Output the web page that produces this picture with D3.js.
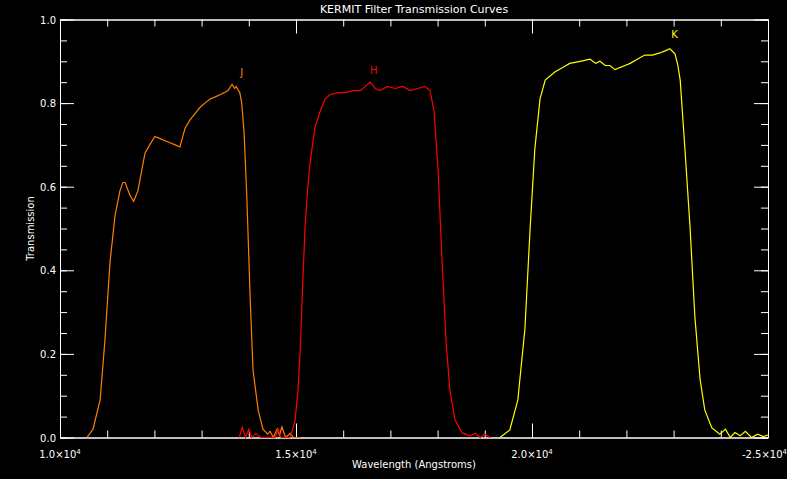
<!DOCTYPE html>
<html><head><meta charset="utf-8">
<script src="https://cdn.jsdelivr.net/npm/d3@7"></script>
<style>body{margin:0;background:#000}svg{display:block}text{font-family:"DejaVu Sans",sans-serif;fill:#fff}</style>
</head><body><svg id="chart" width="787" height="479"></svg>
<script>
// Filter curves: [wavelength in Angstroms, transmission]
const jBand = [[10570,0],[10700,0.02],[10850,0.09],[10950,0.23],[11060,0.42],[11165,0.53],[11270,0.59],[11330,0.61],[11380,0.61],[11480,0.58],[11560,0.565],[11650,0.59],[11800,0.68],[11900,0.70],[12010,0.72],[12120,0.715],[12225,0.71],[12330,0.705],[12440,0.70],[12540,0.695],[12650,0.74],[12755,0.76],[12860,0.775],[12970,0.79],[13070,0.80],[13180,0.81],[13290,0.815],[13390,0.82],[13480,0.825],[13560,0.83],[13645,0.845],[13700,0.835],[13730,0.84],[13810,0.825],[13850,0.80],[13900,0.73],[13960,0.57],[14030,0.33],[14090,0.16],[14200,0.065],[14300,0.02],[14400,0.008],[14450,0.015],[14520,0.0],[14600,0.02],[14650,0.005],[14700,0.025],[14780,0.0],[14880,0.01],[14950,0.0],[15100,0.0]];
const hBand = [[13800,0.0],[13860,0.025],[13930,0.0],[14000,0.02],[14060,0.0],[14150,0.01],[14250,0.0],[14560,0.0],[14620,0.02],[14680,0.0],[14870,0.0],[14930,0.02],[14980,0.04],[15040,0.11],[15090,0.21],[15140,0.36],[15190,0.50],[15250,0.60],[15300,0.66],[15400,0.74],[15510,0.78],[15620,0.81],[15720,0.82],[15880,0.825],[16040,0.825],[16200,0.83],[16360,0.83],[16470,0.84],[16570,0.85],[16680,0.835],[16780,0.83],[16940,0.84],[17100,0.835],[17260,0.84],[17420,0.83],[17580,0.835],[17730,0.84],[17840,0.83],[17925,0.78],[18010,0.64],[18095,0.42],[18180,0.23],[18260,0.113],[18370,0.042],[18520,0.011],[18690,0.004],[18800,0.01],[18900,0.0],[19000,0.008],[19110,0.0]];
const kBand = [[19320,0.0],[19530,0.018],[19700,0.09],[19850,0.26],[19960,0.50],[20060,0.69],[20170,0.81],[20280,0.855],[20490,0.875],[20650,0.885],[20800,0.895],[21020,0.90],[21230,0.905],[21350,0.895],[21440,0.90],[21550,0.89],[21650,0.89],[21760,0.88],[21860,0.885],[21970,0.89],[22080,0.895],[22230,0.905],[22390,0.915],[22550,0.915],[22710,0.92],[22820,0.925],[22920,0.93],[23030,0.918],[23090,0.89],[23140,0.855],[23240,0.69],[23350,0.50],[23450,0.29],[23560,0.14],[23660,0.066],[23810,0.023],[23980,0.008],[24100,0.02],[24200,0.0],[24300,0.012],[24410,0.004],[24520,0.015],[24650,0.0],[24780,0.008],[24900,0.002],[25000,0.006]];

const bands = [
  {name: "J", data: jBand, color: "#ff8000", label: [13850, 0.865]},
  {name: "H", data: hBand, color: "#ff0000", label: [16650, 0.87]},
  {name: "K", data: kBand, color: "#ffff00", label: [23020, 0.955]}
];
const xTicks = [10000, 15000, 20000, 25000];
const yTicks = [0, 0.2, 0.4, 0.6, 0.8, 1.0];

const svg = d3.select("#chart");
const mLeft = 60, mRight = 768, mTop = 19.5, mBottom = 437.5;
const x = d3.scaleLinear().domain([10000, 25000]).range([mLeft, mRight]);
const y = d3.scaleLinear().domain([0, 1]).range([mBottom, mTop]);

// axes with inward ticks on all four sides
const axes = [
  [() => d3.axisBottom(x), `translate(0,${mBottom})`, true],
  [() => d3.axisTop(x), `translate(0,${mTop})`, true],
  [() => d3.axisLeft(y), `translate(${mLeft},0)`, false],
  [() => d3.axisRight(y), `translate(${mRight},0)`, false]
];
axes.forEach(([mk, tr, horiz]) => {
  svg.append("g").attr("transform", tr).call(
    mk().tickValues(horiz ? d3.range(10000, 25001, 1000) : d3.range(0, 1.001, 0.05))
      .tickSize(-7).tickSizeOuter(0).tickFormat(""));
  svg.append("g").attr("transform", tr).call(
    mk().tickValues(horiz ? xTicks : yTicks).tickSize(-14).tickSizeOuter(0).tickFormat(""));
});
svg.selectAll("path.domain, .tick line").attr("stroke", "#fff");

svg.append("g").selectAll("text").data(xTicks).join("text")
  .attr("x", d => d === 25000 ? x(d) + 19 : x(d)).attr("y", mBottom + 20)
  .attr("text-anchor", d => d === 25000 ? "end" : "middle")
  .attr("font-size", 10)
  .each(function (d) {
    const t = d3.select(this);
    t.append("tspan").text((d === 25000 ? "-" : "") + (d / 10000).toFixed(1) + "\u00d710");
    t.append("tspan").attr("dy", -4).attr("font-size", 7).text("4");
  });

svg.append("g").selectAll("text").data(yTicks).join("text")
  .attr("x", mLeft - 4).attr("y", d => y(d) + 4)
  .attr("text-anchor", "end").attr("font-size", 10)
  .text(d => d.toFixed(1));

svg.append("text").attr("x", (mLeft + mRight) / 2).attr("y", 13)
  .attr("text-anchor", "middle").attr("font-size", 11)
  .text("KERMIT Filter Transmission Curves");
svg.append("text").attr("x", (mLeft + mRight) / 2).attr("y", 468)
  .attr("text-anchor", "middle").attr("font-size", 10)
  .text("Wavelength (Angstroms)");
svg.append("text").attr("transform", `translate(34,${(mTop + mBottom) / 2}) rotate(-90)`)
  .attr("text-anchor", "middle").attr("font-size", 10)
  .text("Transmission");

const line = d3.line().x(d => x(d[0])).y(d => y(d[1]));
bands.forEach(b => {
  svg.append("path").datum(b.data).attr("d", line)
    .attr("fill", "none").attr("stroke", b.color).attr("stroke-width", 1.2);
  svg.append("text").attr("x", x(b.label[0])).attr("y", y(b.label[1]))
    .attr("text-anchor", "middle").attr("font-size", 10)
    .style("fill", b.color).text(b.name);
});
</script></body></html>
